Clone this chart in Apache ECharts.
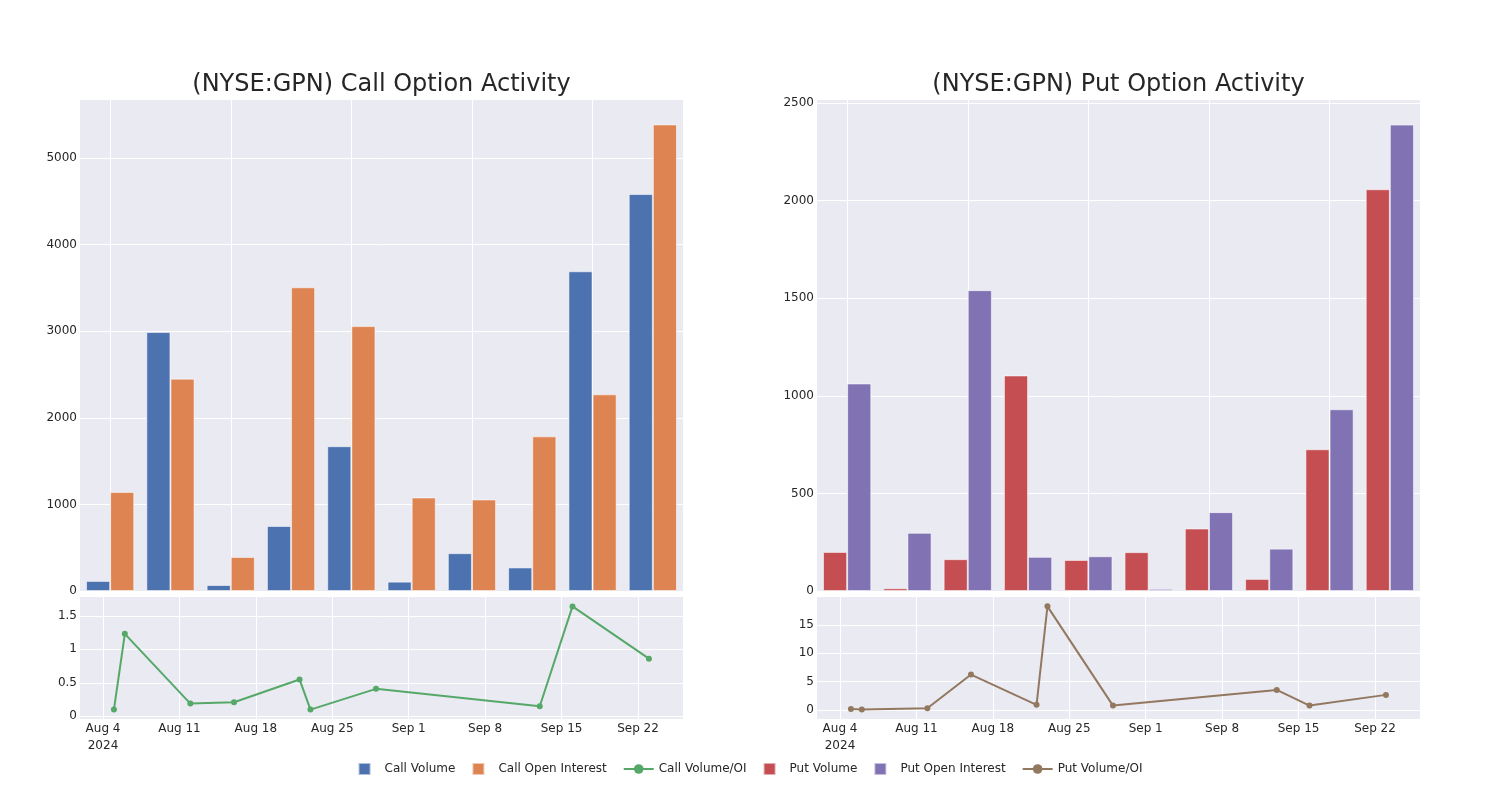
<!DOCTYPE html>
<html>
<head>
<meta charset="utf-8">
<script src="https://cdn.jsdelivr.net/npm/echarts@6/dist/echarts.min.js"></script>
<style>
html,body{margin:0;padding:0;background:#fff;}
#chart{width:1500px;height:800px;}
</style>
</head>
<body>
<div id="chart"></div>
<script>
// ---- data ----
const dates = ['2024-08-05','2024-08-06','2024-08-12','2024-08-16','2024-08-22','2024-08-23','2024-08-29','2024-09-13','2024-09-16','2024-09-23'];
const callVolume = [116, 2990, 69, 751, 1672, 108, 437, 272, 3692, 4584];
const callOpenInterest = [1144, 2452, 393, 3507, 3059, 1080, 1057, 1786, 2271, 5388];
const callRatio = [0.10, 1.23, 0.19, 0.21, 0.55, 0.10, 0.41, 0.15, 1.64, 0.86];
const putVolume = [200, 14, 163, 1104, 159, 199, 320, 62, 726, 2058];
const putOpenInterest = [1063, 298, 1541, 175, 178, 11, 404, 217, 931, 2389];
const putRatio = [0.18, 0.06, 0.30, 6.25, 0.90, 18.3, 0.77, 3.54, 0.77, 2.66];
const dateTicks = ['2024-08-04','2024-08-11','2024-08-18','2024-08-25','2024-09-01','2024-09-08','2024-09-15','2024-09-22'];
const dateTickLabels = ['Aug 4\n2024','Aug 11','Aug 18','Aug 25','Sep 1','Sep 8','Sep 15','Sep 22'];
const callBarTicks = [0, 1000, 2000, 3000, 4000, 5000];
const putBarTicks = [0, 500, 1000, 1500, 2000, 2500];
const callRatioTicks = [0, 0.5, 1, 1.5];
const putRatioTicks = [0, 5, 10, 15];

// ---- helpers ----
const DAY = 86400000;
function ts(s){ const p = s.split('-').map(Number); return Date.UTC(p[0], p[1]-1, p[2]); }
const tickTs = dateTicks.map(ts);
const labelMap = {};
tickTs.forEach((t,i)=>{ labelMap[t] = dateTickLabels[i]; });
const xMin = tickTs[0] - 2.107*DAY;
const xMax = tickTs[0] + 53.12*DAY;

const FONT = 'DejaVu Sans';
const TXT = '#262626';
const BG = '#EAEAF2';
const C = {cv:'#4C72B0', co:'#DD8452', cr:'#55A868', pv:'#C44E52', po:'#8172B3', pr:'#937860'};

const grids = [
  {left:80, width:603, top:100, height:491},
  {left:80, width:603, top:597, height:122},
  {left:817, width:603, top:100, height:491},
  {left:817, width:603, top:597, height:122}
].map(g => Object.assign({show:true, backgroundColor:BG, borderWidth:0, containLabel:false}, g));

function catAxis(gi){
  return {type:'category', gridIndex:gi, data:dates, boundaryGap:true,
    axisLine:{show:false}, axisTick:{show:false}, axisLabel:{show:false},
    splitLine:{show:true, interval:1, alignWithLabel:true, lineStyle:{color:'#fff', width:1}}};
}
function dateAxis(gi){
  return {type:'value', gridIndex:gi, min:xMin, max:xMax, scale:true,
    axisLine:{show:false},
    axisTick:{show:false, customValues:tickTs},
    axisLabel:{customValues:tickTs, color:TXT, fontFamily:FONT, fontSize:12, margin:1, lineHeight:17,
      formatter: v => labelMap[v] !== undefined ? labelMap[v] : ''},
    splitLine:{show:true, lineStyle:{color:'#fff', width:1}}};
}
function valAxis(gi, min, max, ticks){
  return {type:'value', gridIndex:gi, min:min, max:max,
    axisLine:{show:false},
    axisTick:{show:false, customValues:ticks},
    axisLabel:{customValues:ticks, color:TXT, fontFamily:FONT, fontSize:12, margin:3,
      formatter: v => String(v)},
    splitLine:{show:true, lineStyle:{color:'#fff', width:1}}};
}

const barBorder = {borderColor:'rgba(255,255,255,0.55)', borderWidth:1};
function bar(name, data, color, xi){
  return {name, type:'bar', xAxisIndex:xi, yAxisIndex:xi, data:data,
    barGap:'0%', barCategoryGap:'20%', itemStyle:Object.assign({color:color}, barBorder)};
}
function line(name, vals, color, xi){
  return {name, type:'line', xAxisIndex:xi, yAxisIndex:xi,
    data: dates.map((d,i)=>[ts(d), vals[i]]),
    symbol:'circle', symbolSize:6, showSymbol:true,
    lineStyle:{color:color, width:2}, itemStyle:{color:color}};
}

const sq = 'path://M0,0H10V10H0Z';
const option = {
  animation:false,
  textStyle:{fontFamily:FONT},
  title:[
    {text:'(NYSE:GPN) Call Option Activity', left:381.5, top:73, textAlign:'center', padding:0,
      textStyle:{fontFamily:FONT, fontSize:24, fontWeight:'normal', color:TXT}},
    {text:'(NYSE:GPN) Put Option Activity', left:1118.5, top:73, textAlign:'center', padding:0,
      textStyle:{fontFamily:FONT, fontSize:24, fontWeight:'normal', color:TXT}}
  ],
  legend:{left:'center', top:757, itemWidth:30, itemHeight:12, itemGap:16, symbolKeepAspect:true,
    textStyle:{fontFamily:FONT, fontSize:12, color:TXT},
    data:[
      {name:'Call Volume', icon:sq},
      {name:'Call Open Interest', icon:sq},
      {name:'Call Volume/OI'},
      {name:'Put Volume', icon:sq},
      {name:'Put Open Interest', icon:sq},
      {name:'Put Volume/OI'}
    ]},
  grid:grids,
  xAxis:[catAxis(0), dateAxis(1), catAxis(2), dateAxis(3)],
  yAxis:[
    valAxis(0, 0, 5670, callBarTicks),
    valAxis(1, -0.04, 1.78, callRatioTicks),
    valAxis(2, 0, 2515, putBarTicks),
    valAxis(3, -1.6, 19.95, putRatioTicks)
  ],
  series:[
    bar('Call Volume', callVolume, C.cv, 0),
    bar('Call Open Interest', callOpenInterest, C.co, 0),
    line('Call Volume/OI', callRatio, C.cr, 1),
    bar('Put Volume', putVolume, C.pv, 2),
    bar('Put Open Interest', putOpenInterest, C.po, 2),
    line('Put Volume/OI', putRatio, C.pr, 3)
  ]
};
const chart = echarts.init(document.getElementById('chart'));
chart.setOption(option);
</script>
</body>
</html>
